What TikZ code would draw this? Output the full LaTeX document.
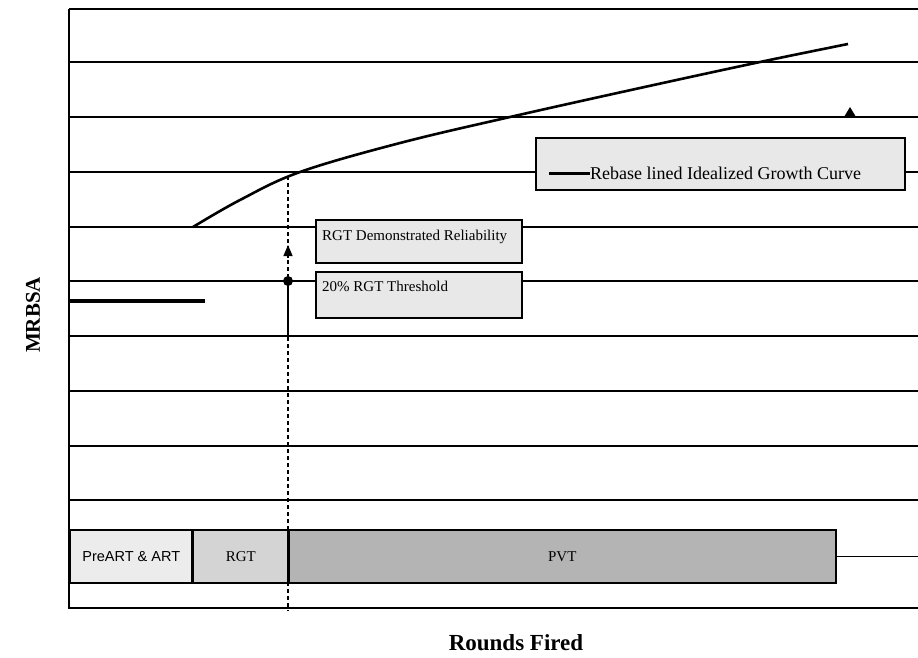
\documentclass[tikz,border=0pt]{standalone}
\usepackage{fontspec}
\setmainfont{Liberation Serif}
\newfontfamily\barsans{Liberation Sans}
\usetikzlibrary{arrows.meta}
\definecolor{legendfill}{HTML}{E8E8E8}
\definecolor{prefill}{HTML}{ECECEC}
\definecolor{rgtfill}{HTML}{D4D4D4}
\definecolor{pvtfill}{HTML}{B4B4B4}
\begin{document}
\begin{tikzpicture}[x=1pt,y=-1pt,
  gridline/.style={line width=1.5pt},
  frametop/.style={line width=2.4pt},
  infobox/.style={draw, line width=1.5pt, fill=legendfill, inner sep=0pt, anchor=north west},
  phasebox/.style={draw, line width=1.5pt, inner sep=0pt, anchor=north west, minimum height=53pt},
  growth/.style={line width=2.6pt},
  boxtext/.style={anchor=base west, inner sep=0pt, font=\fontsize{15}{15}\selectfont},
]
\useasboundingbox (0,0) rectangle (918,657);

% horizontal grid lines
\foreach \yy in {62,117,172,227,281,336,391,446,500}
  \draw[gridline] (69,\yy) -- (918,\yy);

% plot frame (open on the right)
\draw[frametop] (918,9) -- (69,9);
\draw[gridline] (69,9) -- (69,608) -- (918,608);

% phase bar
\node[phasebox, fill=prefill, minimum width=123pt] (pre) at (69,529) {};
\node[phasebox, fill=rgtfill, minimum width=96pt] (rgt) at (192,529) {};
\node[phasebox, fill=pvtfill, minimum width=547pt] (pvt) at (288,529) {};
\coordinate (barend) at (918,555);
\draw[gridline] (pvt.east) -- (pvt.east -| barend);
\draw[line width=2.4pt] (rgt.north west) -- (rgt.south west);
\draw[line width=3pt] (pvt.north west) -- (pvt.south west);
\node[font=\barsans\fontsize{14.5}{15}\selectfont] (pretxt) at (pre.center) {PreART \& ART};
\node[font=\fontsize{15}{15}\selectfont] (rgttxt) at (rgt.center) {RGT};
\node[font=\fontsize{15}{15}\selectfont] (pvttxt) at (pvt.center) {PVT};

% initial MRBSA level
\coordinate (initA) at (69,301);
\coordinate (initB) at (205,301);
\draw[line width=4pt] (initA) -- (initB);

% idealized growth curve
\draw[growth] plot[smooth, tension=0.6] coordinates
  {(193,227) (240,200) (300,172) (400,143) (510,117) (640,88) (760,62) (848,44)};

% end-of-RGT marker line
\coordinate (rgtcurve) at (288,176);
\coordinate (rgtfloor) at (288,611);
\coordinate (solidend) at (288,336);
\draw[line width=1.3pt, dash pattern=on 4pt off 3pt] (rgtcurve) -- (rgtfloor);
\coordinate (thresh) at (288,281);
\draw[line width=1.5pt] (thresh) -- (solidend);
\fill (thresh) circle (5pt);
\coordinate (arrowtail) at (288,258);
\coordinate (arrowtip) at (288,245);
\draw[line width=1.3pt, -{Triangle[length=11pt,width=9pt]}] (arrowtail) -- (arrowtip);

% target marker
\fill (844,117) -- (850,107) -- (856,117) -- cycle;

% annotation boxes
\node[infobox, minimum width=206pt, minimum height=43pt] (demo) at (315,219) {};
\node[boxtext] (demotxt) at (322,240) {RGT Demonstrated Reliability};
\node[infobox, minimum width=206pt, minimum height=46pt] (thr) at (315,271) {};
\node[boxtext] (thrtxt) at (322,291) {20\% RGT Threshold};

% legend
\node[infobox, minimum width=369pt, minimum height=52pt] (legend) at (535,137) {};
\coordinate (legA) at (549,173);
\coordinate (legB) at (590,173);
\draw[line width=3pt] (legA) -- (legB);
\node[anchor=west, inner sep=0pt, font=\fontsize{18}{18}\selectfont] (legtxt) at (legB) {Rebase lined Idealized Growth Curve};

% axis titles
\node[rotate=90, font=\bfseries\fontsize{21}{21}\selectfont] (ylab) at (33,315) {MRBSA};
\node[font=\bfseries\fontsize{23}{23}\selectfont] (xlab) at (516,643) {Rounds Fired};
\end{tikzpicture}
\end{document}
